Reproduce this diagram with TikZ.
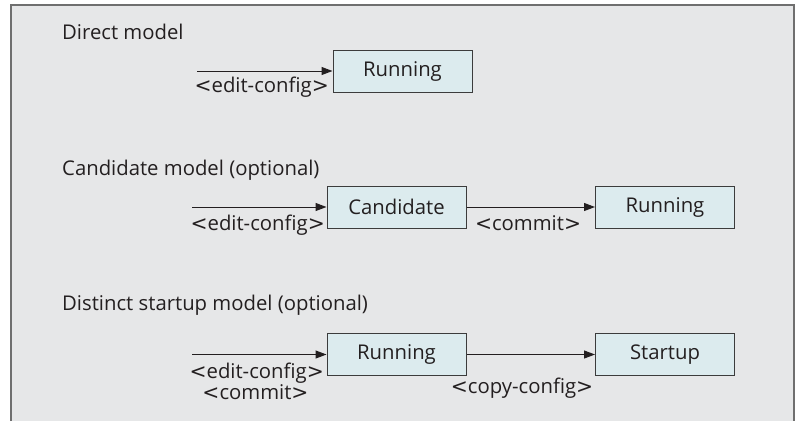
\documentclass[tikz,border=0pt]{standalone}
\usepackage{fontspec}
\setmainfont{Open Sans}
\newfontfamily\symfont{DejaVu Sans}
\newcommand\lsym{{\symfont <}}
\newcommand\gsym{{\symfont >}}
\usetikzlibrary{arrows.meta}
\definecolor{bgcol}{HTML}{E6E7E8}
\definecolor{framecol}{HTML}{6F6F6F}
\definecolor{boxfill}{HTML}{DCEBEE}
\definecolor{boxline}{HTML}{3C3C3C}
\definecolor{txt}{HTML}{231F20}
\tikzset{
  statebox/.style={draw=boxline, fill=boxfill, line width=1pt, minimum width=139pt, minimum height=42pt, inner sep=0pt, text=txt, font=\fontsize{20.3}{22}\selectfont},
  lbl/.style={text=txt, font=\fontsize{20.3}{22}\selectfont, inner sep=0pt},
  conn/.style={draw=txt, line width=1pt, -{Triangle[length=11pt,width=8pt]}},
}
\begin{document}
\begin{tikzpicture}[x=1pt,y=1pt]
\useasboundingbox (0,0) rectangle (797,-421);
\fill[white] (0,0) rectangle (797,-421);
\fill[bgcol] (11,-5) rectangle (794,-421);
\draw[framecol, line width=1.2pt] (11,-421) -- (11,-5) -- (794,-5) -- (794,-421);
% titles
\node[lbl, anchor=base west] (t1) at (62,-39) {Direct model};
\node[lbl, anchor=base west] (t2) at (62,-175) {Candidate model (optional)};
\node[lbl, anchor=base west] (t3) at (62,-310) {Distinct startup model (optional)};
% boxes
\node[statebox] (r1) at (402.5,-71) {Running};
\node[statebox] (c) at (396.5,-207) {Candidate};
\node[statebox] (r2) at (665,-207) {Running};
\node[statebox] (r3) at (396.5,-354.5) {Running};
\node[statebox] (s) at (665,-354.5) {Startup};
% free ends
\coordinate (i1) at (197,-71);
\coordinate (i2) at (192,-207);
\coordinate (i3) at (192,-354.5);
% connectors
\draw[conn] (i1) -- (r1.west);
\draw[conn] (i2) -- (c.west);
\draw[conn] (c.east) -- (r2.west);
\draw[conn] (i3) -- (r3.west);
\draw[conn] (r3.east) -- (s.west);
% labels
\node[lbl, anchor=base east] (l1) at (329,-92) {\lsym edit-config\gsym};
\node[lbl, anchor=base east] (l2) at (325,-230) {\lsym edit-config\gsym};
\node[lbl, anchor=base] (l3) at (528,-230) {\lsym commit\gsym};
\node[lbl, anchor=base east] (l4) at (324,-378) {\lsym edit-config\gsym};
\node[lbl, anchor=base] (l5) at (255.5,-399) {\lsym commit\gsym};
\node[lbl, anchor=base] (l6) at (522,-393) {\lsym copy-config\gsym};
\end{tikzpicture}
\end{document}
